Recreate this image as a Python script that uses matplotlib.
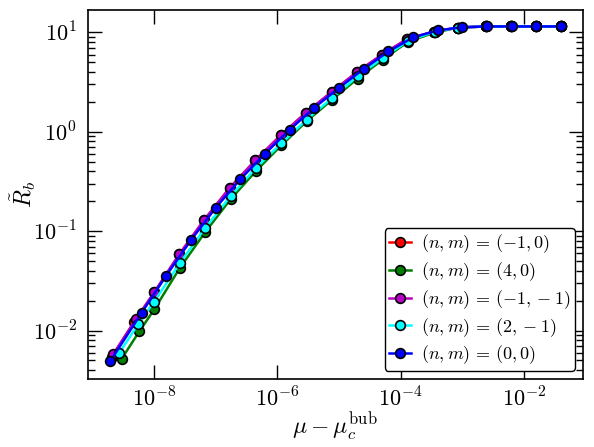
import numpy as np
import matplotlib
matplotlib.use('Agg')
import matplotlib.pyplot as plt
from matplotlib.ticker import NullLocator, NullFormatter, LogLocator

plt.rcParams['mathtext.fontset'] = 'cm'
plt.rcParams['font.family'] = 'serif'

# red / magenta share one mu grid
x_a = [2.06e-9, 4.80e-9, 1.01e-8, 2.57e-8, 6.53e-8, 1.71e-7, 4.39e-7, 1.13e-6,
       2.91e-6, 7.59e-6, 1.97e-5, 4.95e-5, 1.27e-4, 3.45e-4, 8.55e-4, 2.40e-3,
       6.15e-3, 1.55e-2, 3.95e-2]
y_red = [5.42e-3, 1.23e-2, 2.42e-2, 5.85e-2, 0.130, 0.275, 0.516, 0.920,
         1.56, 2.52, 4.01, 5.97, 8.59, 10.2, 11.2, 11.5, 11.5, 11.5, 11.5]
x_m = [2.20e-9, 5.10e-9, 1.01e-8, 2.57e-8, 6.53e-8, 1.71e-7, 4.39e-7, 1.13e-6,
       2.91e-6, 7.59e-6, 1.97e-5, 4.95e-5, 1.27e-4, 3.45e-4, 8.55e-4, 2.40e-3,
       6.15e-3, 1.55e-2, 3.95e-2]
y_m = [5.80e-3, 1.30e-2, 2.42e-2, 5.85e-2, 0.130, 0.275, 0.516, 0.920,
       1.56, 2.52, 4.01, 5.97, 8.59, 10.2, 11.2, 11.5, 11.5, 11.5, 11.5]

# green / cyan
x_g = [3.00e-9, 5.78e-9, 1.01e-8, 2.61e-8, 6.71e-8, 1.75e-7, 4.50e-7, 1.16e-6,
       2.99e-6, 7.76e-6, 2.00e-5, 5.09e-5, 1.32e-4, 3.58e-4, 8.55e-4, 2.40e-3,
       6.15e-3, 1.55e-2, 3.95e-2]
y_g = [5.21e-3, 9.79e-3, 1.63e-2, 4.24e-2, 9.73e-2, 0.210, 0.404, 0.731,
       1.28, 2.11, 3.44, 5.32, 8.07, 10.0, 11.2, 11.5, 11.5, 11.5, 11.5]
x_c = [2.71e-9, 5.57e-9, 1.01e-8, 2.61e-8, 6.71e-8, 1.75e-7, 4.50e-7, 1.16e-6,
       2.99e-6, 7.76e-6, 2.00e-5, 5.09e-5, 1.32e-4, 3.58e-4, 8.55e-4, 2.40e-3,
       6.15e-3, 1.55e-2, 3.95e-2]
y_c = [5.89e-3, 1.16e-2, 1.96e-2, 4.75e-2, 0.107, 0.226, 0.433, 0.766,
       1.33, 2.20, 3.62, 5.53, 8.26, 10.2, 11.2, 11.5, 11.5, 11.5, 11.5]

# blue
x_b = [1.95e-9, 6.31e-9, 1.58e-8, 3.98e-8, 1.0e-7, 2.51e-7, 6.31e-7, 1.58e-6,
       3.98e-6, 1.0e-5, 2.51e-5, 6.31e-5, 1.58e-4, 3.98e-4, 1.0e-3, 2.51e-3,
       6.31e-3, 1.58e-2, 3.98e-2]
y_b = [4.90e-3, 1.51e-2, 3.57e-2, 8.15e-2, 0.172, 0.333, 0.603, 1.05,
       1.75, 2.77, 4.30, 6.44, 8.91, 10.5, 11.3, 11.5, 11.5, 11.5, 11.5]

labels = [r'$(n,m)\,=\,(-1,0)$', r'$(n,m)\,=\,(4,0)$',
          r'$(n,m)\,=\,(-1,-1)$', r'$(n,m)\,=\,(2,-1)$',
          r'$(n,m)\,=\,(0,0)$']
colors = ['red', (0, 0.5, 0), (0.72, 0, 0.78), 'cyan', 'blue']

xticks = [1e-8, 1e-6, 1e-4, 1e-2]
xticklabels = [r'$10^{-8}$', r'$10^{-6}$', r'$10^{-4}$', r'$10^{-2}$']
yticks = [1e-2, 1e-1, 1e0, 1e1]
yticklabels = [r'$10^{-2}$', r'$10^{-1}$', r'$10^{0}$', r'$10^{1}$']

fig = plt.figure(figsize=(5.94, 4.47), dpi=100)
ax = fig.add_axes([0.148, 0.152, 0.833, 0.826])

series = [(x_a, y_red), (x_g, y_g), (x_m, y_m), (x_c, y_c), (x_b, y_b)]
for (xs, ys), col, lab in zip(series, colors, labels):
    ax.plot(xs, ys, '-o', color=col, lw=1.8, ms=7, mfc=col, mec='black',
            mew=1.2, label=lab)

ax.set_xscale('log')
ax.set_yscale('log')
ax.set_xlim(8.5e-10, 8.9e-2)
ax.set_ylim(3.25e-3, 16.9)

ax.set_xticks(xticks)
ax.set_xticklabels(xticklabels)
ax.xaxis.set_minor_locator(NullLocator())
ax.set_yticks(yticks)
ax.set_yticklabels(yticklabels)
ax.yaxis.set_minor_locator(LogLocator(base=10, subs=np.arange(2, 10)))
ax.yaxis.set_minor_formatter(NullFormatter())

ax.tick_params(which='both', direction='in', top=True, right=True,
               labelsize=16, width=1)
ax.tick_params(axis='x', pad=6)
ax.tick_params(axis='y', pad=8)
ax.tick_params(which='major', length=10)
ax.tick_params(which='minor', length=5)
for sp in ax.spines.values():
    sp.set_linewidth(1.2)

ax.set_xlabel(r'$\mu-\mu_c^{\rm bub}$', fontsize=17, labelpad=0)
ax.set_ylabel(r'$\tilde{R}_b$', fontsize=17, labelpad=-4)

leg = ax.legend(loc='lower right', numpoints=1, fontsize=13, fancybox=True,
                framealpha=1, edgecolor='black', borderpad=0.25,
                handlelength=1.2, handletextpad=0.55, labelspacing=0.28,
                borderaxespad=0.45)
leg.get_frame().set_linewidth(1.0)

fig.savefig('out.png', dpi=100)
